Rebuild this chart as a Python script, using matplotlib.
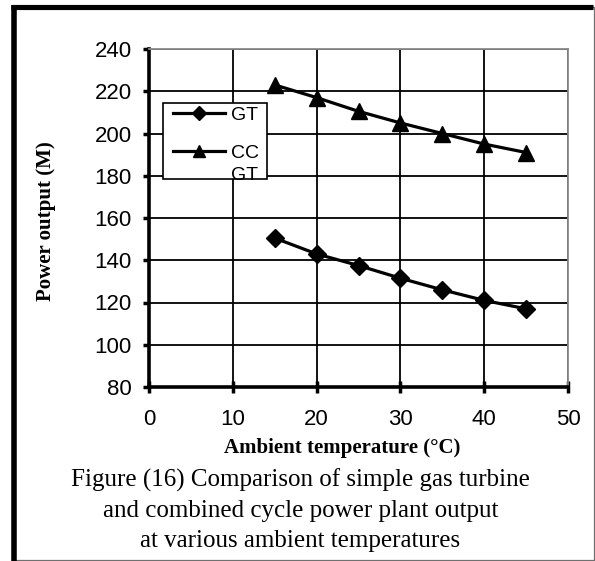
import matplotlib
matplotlib.use("Agg")
import matplotlib.pyplot as plt
from matplotlib.lines import Line2D
from matplotlib.patches import Rectangle

temps = [15, 20, 25, 30, 35, 40, 45]
gt_power = [150.5, 143, 137.5, 131.5, 126, 121, 117]
ccgt_power = [223, 217, 210.5, 205, 200, 195, 191]
x_ticks = [0, 10, 20, 30, 40, 50]
y_ticks = [80, 100, 120, 140, 160, 180, 200, 220, 240]
series_labels = ["GT", "CC\nGT"]

fig = plt.figure(figsize=(5.95, 5.61), dpi=100)
W, H = 595, 561

def fx(px):
    return px / W

def fy(py):
    return 1 - py / H

# outer frame
fig.add_artist(Line2D([fx(14), fx(593.5), fx(593.5), fx(14)],
                      [fy(6.7), fy(6.7), fy(559.5), fy(559.5)],
                      transform=fig.transFigure, color='#707070', lw=0.9))
fig.add_artist(Line2D([fx(14), fx(14)], [fy(4.5), fy(561)], transform=fig.transFigure,
                      color='black', lw=4.0, solid_capstyle='butt'))
fig.add_artist(Line2D([fx(11), fx(593)], [fy(6.7), fy(6.7)], transform=fig.transFigure,
                      color='black', lw=3.7, solid_capstyle='butt'))

ax = fig.add_axes([fx(149), fy(387), fx(568) - fx(149), fy(49) - fy(387)])
l1, = ax.plot(temps, gt_power, color='black', lw=2.3, marker='D', ms=9, zorder=5, clip_on=False)
l2, = ax.plot(temps, ccgt_power, color='black', lw=2.3, marker='^', ms=11, zorder=5, clip_on=False)

ax.set_xlim(0, 50)
ax.set_ylim(80, 240)
ax.set_xticks(x_ticks)
ax.set_yticks(y_ticks)
ax.grid(True, color='black', lw=1.3)
ax.set_axisbelow(True)
for lab in ax.get_xticklabels() + ax.get_yticklabels():
    lab.set_fontfamily('Liberation Sans')
    lab.set_fontsize(16)
ax.tick_params(axis='y', direction='out', length=4.5, width=2.5, pad=8)
ax.tick_params(axis='x', direction='inout', length=9, width=2.5, pad=11)
ax.spines['left'].set_linewidth(2.6)
ax.spines['bottom'].set_linewidth(2.6)
for s in ('top', 'right'):
    ax.spines[s].set_color('#8a8a8a')
    ax.spines[s].set_linewidth(1.3)

fig.text(fx(342), fy(453), 'Ambient temperature (°C)', ha='center', va='baseline',
         fontfamily='Liberation Serif', fontweight='bold', fontsize=15)
fig.text(fx(46.5), fy(221), 'Power output (M)', rotation=90, ha='center', va='center',
         fontfamily='Liberation Serif', fontweight='bold', fontsize=15)

# legend (drawn as a box with sample glyphs)
fig.add_artist(Rectangle((fx(163.3), fy(179.3)), fx(266.7) - fx(163.3), fy(103.3) - fy(179.3),
                         transform=fig.transFigure, facecolor='white', edgecolor='black',
                         lw=1.2, zorder=10))
for line, hy, ty, lab in [(l1, 112.7, 120, series_labels[0]), (l2, 150.7, 158.3, series_labels[1])]:
    fig.add_artist(Line2D([fx(173.3), fx(225)], [fy(hy), fy(hy)], transform=fig.transFigure,
                          color=line.get_color(), lw=line.get_linewidth(), zorder=11))
    fig.add_artist(Line2D([fx(199)], [fy(hy)], transform=fig.transFigure,
                          marker=line.get_marker(), color='black',
                          ms=7 if line.get_marker() == 'D' else 9, zorder=12))
    for k, part in enumerate(lab.split("\n")):
        fig.text(fx(231.5), fy(ty + 22 * k), part, ha='left', va='baseline',
                 fontfamily='Liberation Sans', fontsize=14, zorder=13)

caption = ["Figure (16) Comparison of simple gas turbine",
           "and combined cycle power plant output",
           "at various ambient temperatures"]
for i, line in enumerate(caption):
    fig.text(fx(300.5), fy(487 + 30 * i), line, ha='center', va='baseline',
             fontfamily='Liberation Serif', fontsize=18)

fig.savefig('out.png', dpi=100)
